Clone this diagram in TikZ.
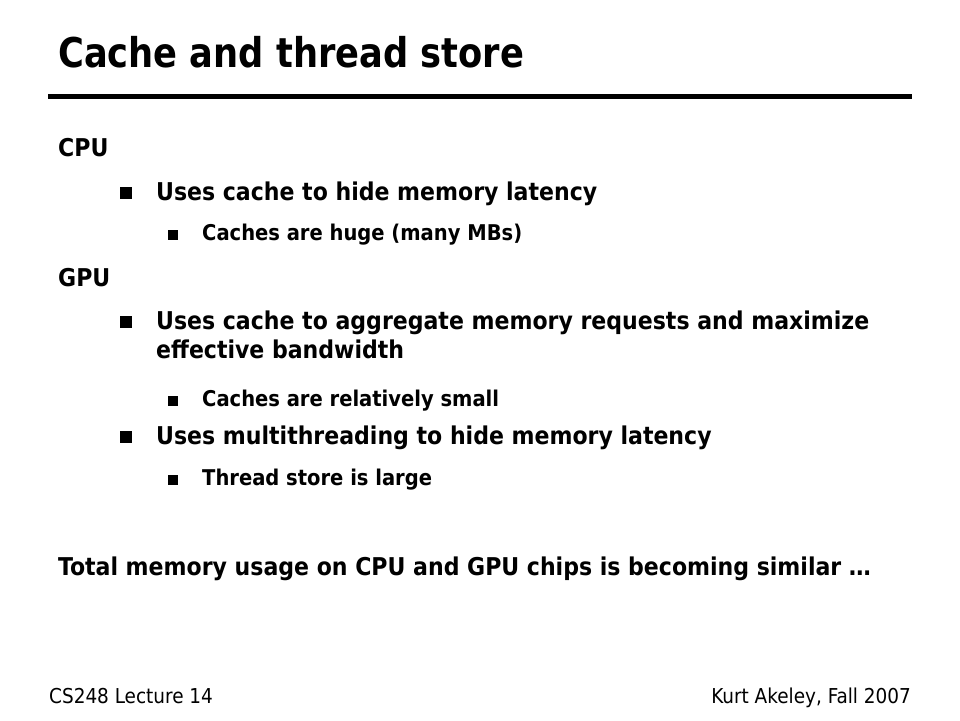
\documentclass[tikz,border=0pt]{standalone}
\usepackage{fontspec}
\setmainfont{DejaVu Sans Condensed}[BoldFont={DejaVu Sans Condensed Bold}]
\usepackage{tikz}

\tikzset{
  txt/.style={anchor=base west,inner sep=0pt},
  ttl/.style={txt,font=\bfseries\fontsize{41}{48}\selectfont},
  head/.style={txt,font=\bfseries\fontsize{24.5}{29}\selectfont},
  lvlone/.style={txt,font=\bfseries\fontsize{24.5}{29}\selectfont},
  lvltwo/.style={txt,font=\bfseries\fontsize{21.7}{26}\selectfont},
  foot/.style={inner sep=0pt,font=\fontsize{20.5}{24}\selectfont},
  bulone/.style={fill=black,inner sep=0pt,minimum size=12pt},
  bultwo/.style={fill=black,inner sep=0pt,minimum size=10pt}
}

\begin{document}
\begin{tikzpicture}[x=1pt,y=-1pt]
        \useasboundingbox (0,0) rectangle (960,720);
        % title and rule
        \node[ttl] (title) at (58,67) {\scalebox{0.955}[1]{Cache and thread store}};
        \coordinate (rl) at (48,96.5);
        \coordinate (rr) at (912,96.5);
        \draw[line width=5pt] (rl) -- (rr);
        % CPU
        \node[head] (cpu) at (58,156) {CPU};
        \node[bulone] (b1) at (126,192.5) {};
        \node[lvlone] (t1) at (156,200) {Uses cache to hide memory latency};
        \node[bultwo] (s1) at (173,234.5) {};
        \node[lvltwo] (u1) at (202,240) {Caches are huge (many MBs)};
        % GPU
        \node[head] (gpu) at (58,286) {GPU};
        \node[bulone] (b2) at (126,321.5) {};
        \node[lvlone] (t2) at (156,329) {Uses cache to aggregate memory requests and maximize};
        \node[lvlone] (t2b) at (156,358) {effective bandwidth};
        \node[bultwo] (s2) at (173,400.5) {};
        \node[lvltwo] (u2) at (202,406) {Caches are relatively small};
        \node[bulone] (b3) at (126,436.5) {};
        \node[lvlone] (t3) at (156,444) {Uses multithreading to hide memory latency};
        \node[bultwo] (s3) at (173,479.5) {};
        \node[lvltwo] (u3) at (202,485) {Thread store is large};
        % closing line
        \node[head] (total) at (58,575) {Total memory usage on CPU and GPU chips is becoming similar …};
        % footer
        \node[foot,anchor=base west] (fl) at (49,703) {CS248 Lecture 14};
        \node[foot,anchor=base east] (fr) at (911,703) {Kurt Akeley, Fall 2007};
\end{tikzpicture}
\end{document}
